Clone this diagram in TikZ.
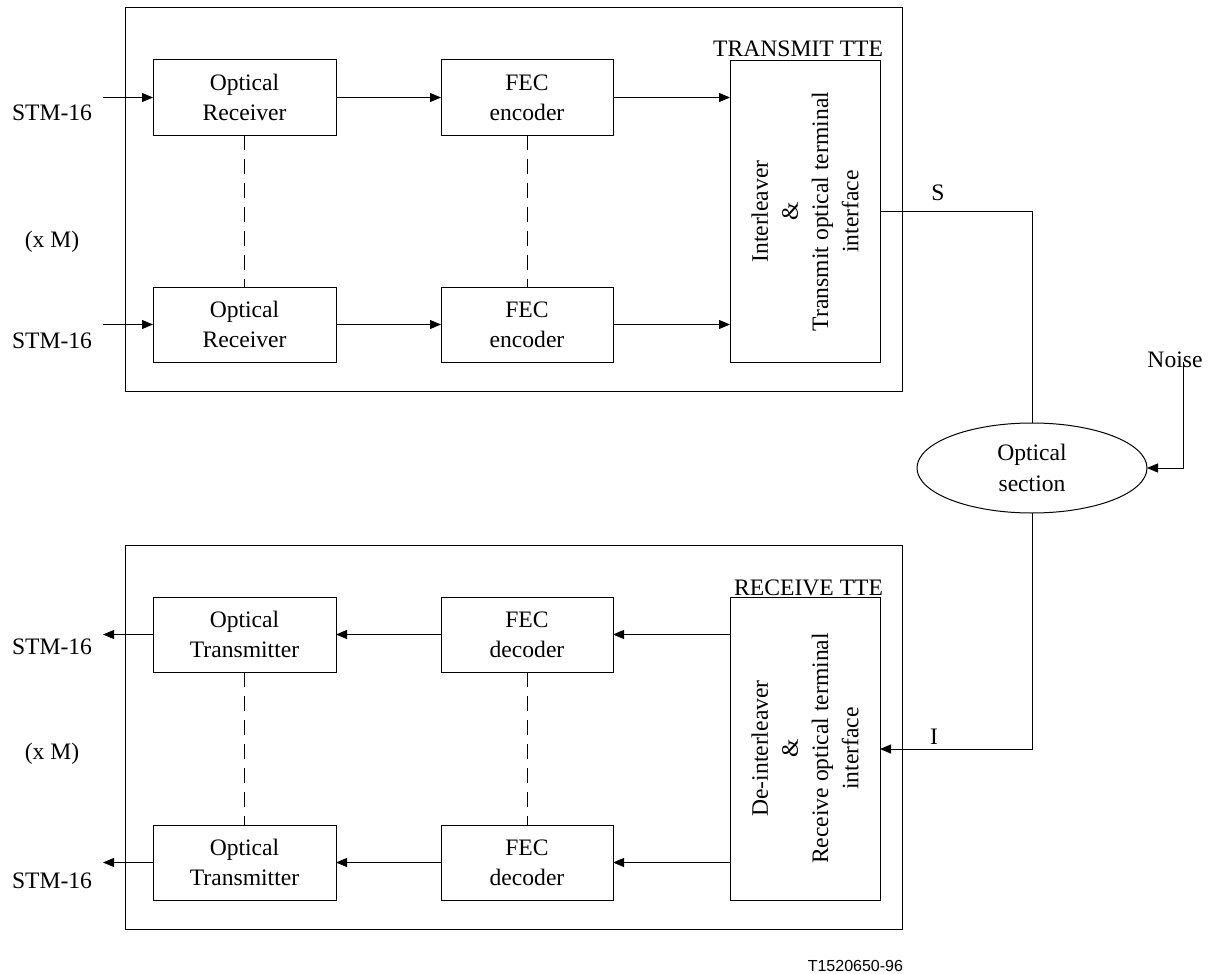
\documentclass[tikz,border=0pt]{standalone}
\usepackage{fontspec}
\setmainfont{Liberation Serif}
\newfontfamily\labsans{Liberation Sans}
\usetikzlibrary{arrows.meta,shapes.geometric}
\begin{document}
\begin{tikzpicture}[x=1pt,y=-1pt,
  every node/.style={font=\fontsize{23.6}{30.2}\selectfont},
  blk/.style={draw,line width=1pt,inner sep=0pt,outer sep=0pt,align=center},
  small/.style={blk,minimum width=183pt,minimum height=75pt},
  fec/.style={blk,minimum width=172pt,minimum height=75pt},
  tall/.style={blk,minimum width=150pt},
  frame/.style={draw,line width=1pt},
  con/.style={line width=1pt},
  arr/.style={con,-{Triangle[length=11pt,width=9pt]}},
  dsh/.style={line width=1pt,dash pattern=on 15pt off 9pt},
  lab/.style={inner sep=0pt,outer sep=0pt}]
\useasboundingbox (0,0) rectangle (1211,974);
% frames
\draw[frame] (125,8) rectangle (902,391);
\draw[frame] (125,545) rectangle (902,929);
% transmit side
\node[small] (or1) at (244.5,97.5) {Optical\\Receiver};
\node[small] (or2) at (244.5,324.5) {Optical\\Receiver};
\node[fec] (fe1) at (527,97.5) {FEC\\encoder};
\node[fec] (fe2) at (527,324.5) {FEC\\encoder};
\node[tall,minimum height=301pt] (ilv) at (805,211.5) {};
\node[lab,rotate=90,align=center] (ilvt) at (ilv.center) {Interleaver\\\&\\Transmit optical terminal\\interface};
\node[lab,anchor=base east] (ttt) at (883,57) {TRANSMIT TTE};
% receive side
\node[small] (ot1) at (244.5,634.5) {Optical\\Transmitter};
\node[small] (ot2) at (244.5,862.5) {Optical\\Transmitter};
\node[fec] (fd1) at (527,634.5) {FEC\\decoder};
\node[fec] (fd2) at (527,862.5) {FEC\\decoder};
\node[tall,minimum height=303pt] (dil) at (805,748.5) {};
\node[lab,rotate=90,align=center] (dilt) at (dil.center) {De-interleaver\\\&\\Receive optical terminal\\interface};
\node[lab,anchor=base east] (rtt) at (883,595) {RECEIVE TTE};
% optical section
\node[ellipse,draw,line width=1pt,minimum width=230pt,minimum height=90pt,inner sep=0pt,outer sep=0pt,align=center] (opt) at (1032,468) {Optical\\section};
% left labels
\node[lab] (in1) at (52,113) {STM-16};
\node[lab] (in2) at (52,341) {STM-16};
\node[lab] (xm1) at (52,242) {(x M)};
\node[lab] (out1) at (52,647) {STM-16};
\node[lab] (out2) at (52,881) {STM-16};
\node[lab] (xm2) at (52,754) {(x M)};
\node[lab] (slab) at (938,193) {S};
\node[lab] (ilab) at (934,737) {I};
\node[lab] (noise) at (1175,360) {Noise};
\node[lab,anchor=base east,font=\labsans\fontsize{16}{19}\selectfont] (code) at (903,971) {T1520650-96};
% coordinates
\coordinate (a1) at (103,97.5);
\coordinate (a2) at (103,324.5);
\coordinate (b1) at (103,634.5);
\coordinate (b2) at (103,862.5);
\coordinate (s1) at (1032,211.5);
\coordinate (i1) at (1032,749);
\coordinate (n1) at (1183,362);
% transmit connectors
\draw[arr] (a1) -- (or1.west);
\draw[arr] (a2) -- (or2.west);
\draw[arr] (or1.east) -- (fe1.west);
\draw[arr] (or2.east) -- (fe2.west);
\draw[arr] (fe1.east) -- (fe1.east -| ilv.west);
\draw[arr] (fe2.east) -- (fe2.east -| ilv.west);
\draw[dsh] (or1.south) -- (or2.north);
\draw[dsh] (fe1.south) -- (fe2.north);
% receive connectors
\draw[arr] (ot1.west) -- (b1);
\draw[arr] (ot2.west) -- (b2);
\draw[arr] (fd1.west) -- (ot1.east);
\draw[arr] (fd2.west) -- (ot2.east);
\draw[arr] (fd1.east -| dil.west) -- (fd1.east);
\draw[arr] (fd2.east -| dil.west) -- (fd2.east);
\draw[dsh] (ot1.south) -- (ot2.north);
\draw[dsh] (fd1.south) -- (fd2.north);
% line connectors
\draw[con] (ilv.east |- s1) -- (s1) -- (opt.north);
\draw[arr] (opt.south) -- (i1) -- (dil.east |- i1);
\draw[arr] (n1) |- (opt.east);
\end{tikzpicture}
\end{document}
